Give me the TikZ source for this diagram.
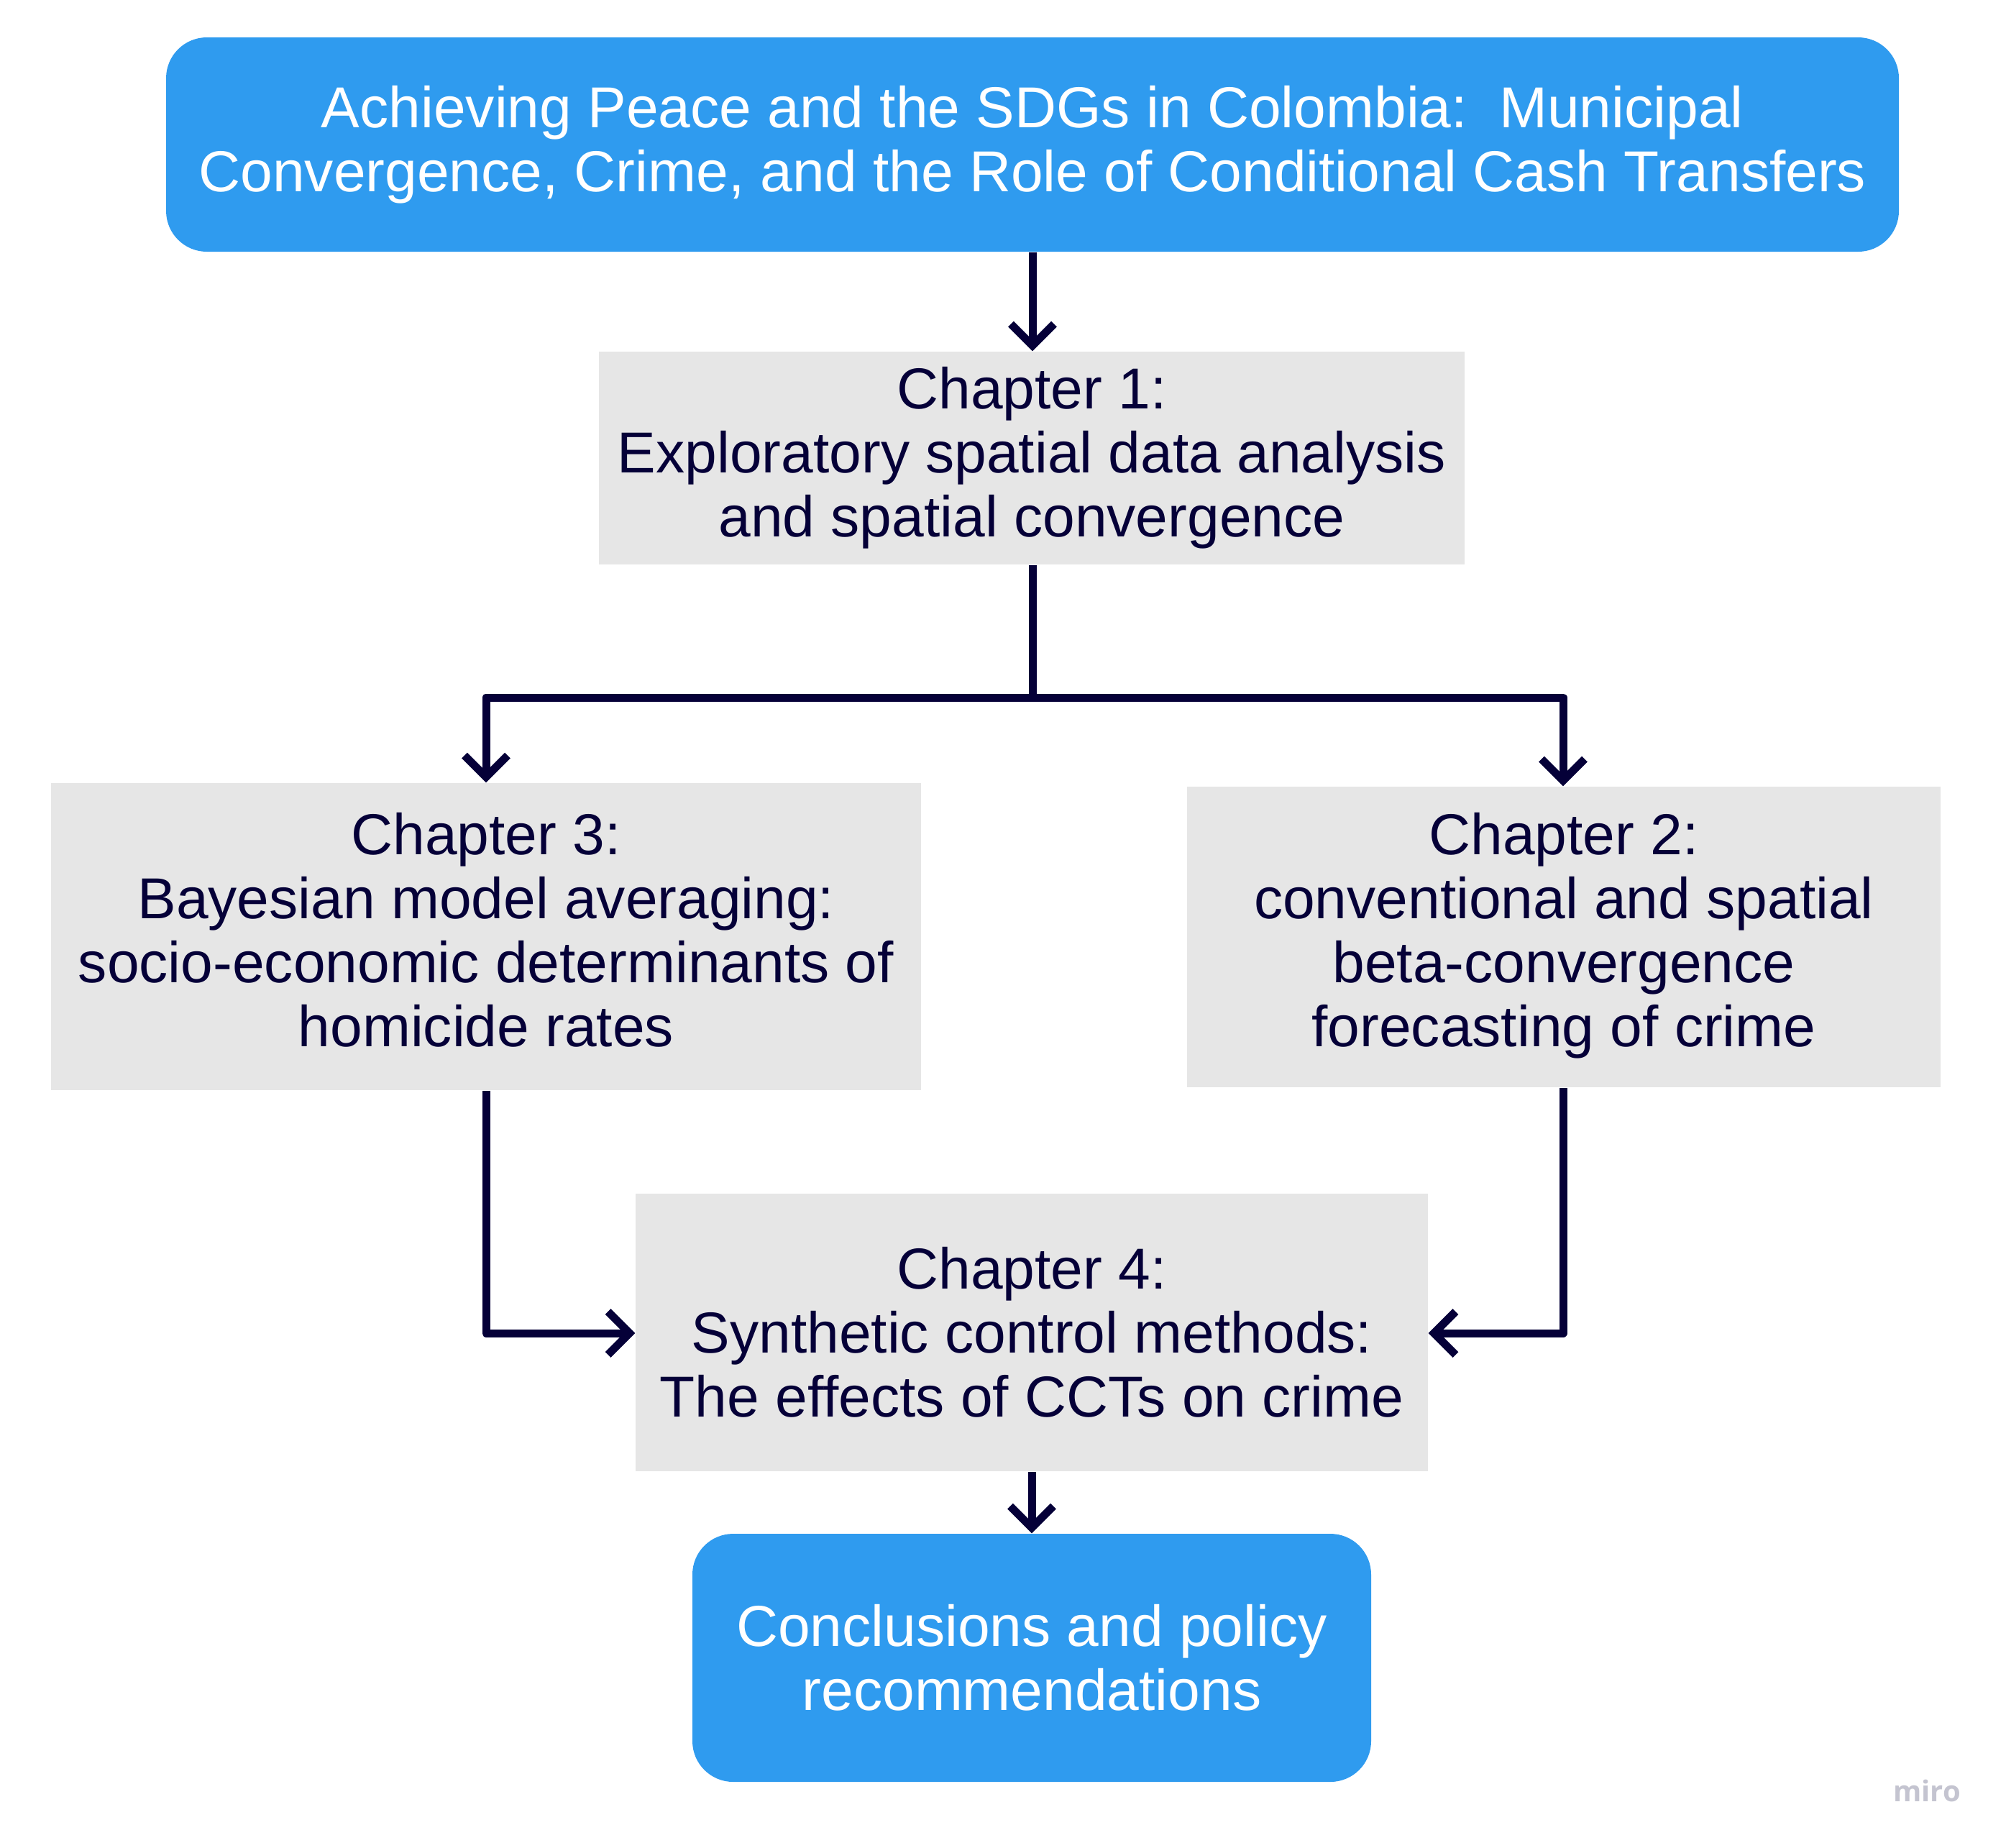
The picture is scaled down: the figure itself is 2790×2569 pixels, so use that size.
\documentclass[tikz,border=0pt]{standalone}
\usepackage{fontspec}
\setmainfont{Liberation Sans}
\newfontfamily\logofont{Open Sans}
\usetikzlibrary{arrows.meta}
\definecolor{mblue}{RGB}{47,155,239}
\definecolor{mgray}{RGB}{230,230,230}
\definecolor{mnavy}{RGB}{5,0,56}
\definecolor{mlogo}{RGB}{196,196,208}
\tikzset{
  titlebox/.style={rectangle, rounded corners=17pt, fill=mblue, text=white, inner sep=0pt, align=center,
    font=\fontsize{24.1}{26.7}\selectfont},
  chapbox/.style={rectangle, fill=mgray, text=mnavy, inner sep=0pt, align=center,
    font=\fontsize{24.1}{26.7}\selectfont},
  conn/.style={draw=mnavy, line width=3.3pt, line join=round, -{Straight Barb[length=9pt,width=18pt,line width=3.3pt]}},
}
\begin{document}
\begin{tikzpicture}[x=0.3pt,y=-0.3pt]
\useasboundingbox (0,0) rectangle (2790,2569);
\node[titlebox, minimum width=723pt, minimum height=89.4pt] (top) at (1436,201)
  {Achieving Peace and the SDGs in Colombia:\ \ Municipal\\Convergence, Crime, and the Role of Conditional Cash Transfers};
\node[chapbox, minimum width=361.2pt, minimum height=88.8pt] (ch1) at (1435,637)
  {Chapter 1:\\Exploratory spatial data analysis\\and spatial convergence};
\node[chapbox, minimum width=363pt, minimum height=128.1pt] (ch3) at (676,1302.5)
  {\raisebox{0pt}{}Chapter 3:\\Bayesian model averaging:\\socio-economic determinants of\\homicide rates\rule[-6pt]{0pt}{0pt}};
\node[chapbox, minimum width=314.4pt, minimum height=125.4pt] (ch2) at (2175,1303)
  {Chapter 2:\\conventional and spatial\\beta-convergence\\forecasting of crime\rule[-6pt]{0pt}{0pt}};
\node[chapbox, minimum width=330.6pt, minimum height=115.8pt] (ch4) at (1435,1853)
  {Chapter 4:\\Synthetic control methods:\\The effects of CCTs on crime};
\node[titlebox, minimum width=283.2pt, minimum height=103.5pt] (concl) at (1435,2305.5)
  {Conclusions and policy\\recommendations};
\node[text=mlogo, font=\logofont\bfseries\fontsize{12}{14}\selectfont, inner sep=0pt] (logo) at (2680,2490) {miro};
\coordinate (split) at (1436,970);
\draw[conn] (top.south -| 1436,0) -- (ch1.north -| 1436,0);
\draw[conn] (ch1.south -| 1436,0) -- (split) -| (ch3.north -| 676,0);
\draw[conn] (split) -| (ch2.north -| 2174,0);
\draw[conn] (ch3.south) |- (ch4.west |- 0,1854);
\draw[conn] (ch2.south -| 2174,0) |- (ch4.east |- 0,1854);
\draw[conn] (ch4.south) -- (concl.north);
\end{tikzpicture}
\end{document}
